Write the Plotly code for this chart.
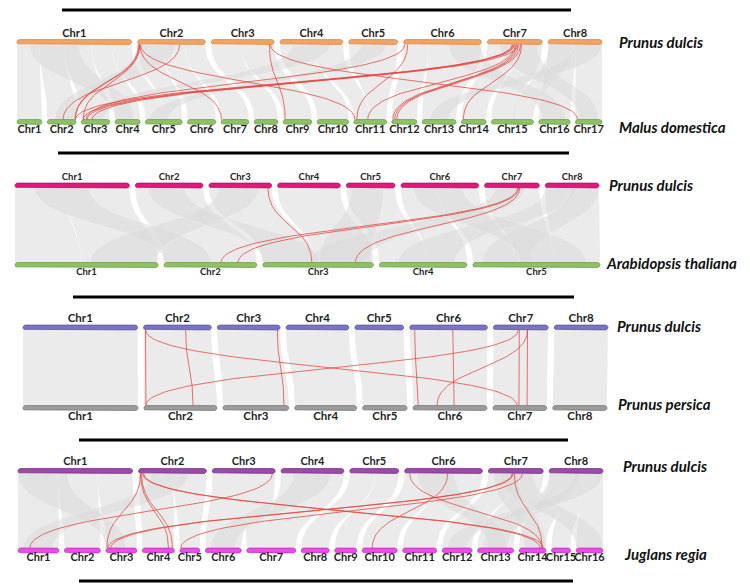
import numpy as np
import plotly.graph_objects as go

# ------------------------------------------------------------------ data
pd_len = [46.0, 27.2, 25.2, 25.2, 19.6, 31.2, 22.0, 21.6]            # Prunus dulcis (Mb)
md_len = [32.6, 37.5, 37.2, 32.8, 48.0, 37.0, 36.2, 31.0, 37.4, 41.1,
          42.7, 32.7, 44.2, 32.4, 54.9, 41.0, 34.7]                     # Malus domestica
at_len = [30.4, 19.7, 23.5, 18.6, 27.0]                                 # Arabidopsis thaliana
pp_len = [47.9, 30.4, 27.4, 25.8, 18.5, 30.8, 22.4, 22.6]               # Prunus persica
jr_len = [41, 36, 31, 32, 20, 36, 49, 28, 22, 35, 34, 30, 36, 27, 19, 27]  # Juglans regia

species_top = "Prunus dulcis"
species_bottom = ["Malus domestica", "Arabidopsis thaliana", "Prunus persica", "Juglans regia"]

# background syntenic blocks: (top chr, top start, top end, bottom chr, bottom start, bottom end)
blocks_md = [
    (1, 0, 9, 1, 0, 32.6), (1, 9, 19, 2, 0, 37.5), (1, 19, 30, 3, 0, 37.2),
    (1, 30, 38, 4, 0, 32.8), (1, 38, 46, 5, 0, 24), (2, 0, 10, 5, 24, 48),
    (2, 10, 19, 6, 0, 37), (2, 19, 27.2, 7, 0, 36.2), (3, 0, 12, 8, 0, 31),
    (3, 12, 25.2, 9, 0, 37.4), (4, 0, 13, 10, 0, 41.1), (4, 13, 25.2, 11, 0, 20),
    (5, 0, 19.6, 11, 20, 42.7), (6, 0, 10, 12, 0, 32.7), (6, 10, 31.2, 13, 0, 44.2),
    (7, 0, 12, 14, 0, 32.4), (7, 12, 22, 15, 0, 30), (8, 0, 11, 16, 0, 41),
    (8, 11, 21.6, 17, 0, 34.7),
]
cross_md = [
    (8, 0, 10, 15, 28, 54.9), (8, 10, 21.6, 13, 10, 35), (7, 5, 20, 17, 5, 30),
    (6, 18, 31, 16, 5, 35), (1, 5, 25, 4, 0, 25), (2, 0, 15, 2, 10, 35),
    (4, 5, 20, 3, 10, 30), (5, 5, 15, 5, 5, 30),
]
blocks_at = [
    (1, 0, 20, 1, 0, 14), (1, 20, 46, 1, 14, 30.4), (2, 0, 27.2, 2, 0, 19.7),
    (3, 0, 25.2, 3, 0, 11), (4, 0, 25.2, 3, 11, 23.5), (5, 0, 19.6, 4, 0, 10),
    (6, 0, 15, 4, 10, 18.6), (6, 15, 31.2, 5, 0, 9), (7, 0, 22, 5, 9, 17),
    (8, 0, 21.6, 5, 17, 27),
]
cross_at = [
    (8, 0, 12, 4, 4, 16), (8, 10, 21.6, 5, 2, 12), (7, 4, 16, 3, 10, 22),
    (1, 8, 30, 2, 0, 10), (3, 4, 20, 1, 16, 30), (6, 5, 25, 5, 10, 24),
    (2, 5, 20, 3, 0, 12), (5, 2, 15, 3, 12, 23),
]
blocks_pp = [
    (1, 0, 46.0, 1, 0, 47.9), (2, 0, 27.2, 2, 0, 30.4), (3, 0, 25.2, 3, 0, 27.4),
    (4, 0, 25.2, 4, 0, 25.8), (5, 0, 19.6, 5, 0, 18.5), (6, 0, 31.2, 6, 0, 30.8),
    (7, 0, 22.0, 7, 0, 22.4), (8, 0, 21.6, 8, 0, 22.6),
]
cross_pp = []
blocks_jr = [
    (1, 0, 16, 1, 0, 41), (1, 16, 32, 2, 0, 36), (1, 32, 46, 3, 0, 31),
    (2, 0, 14, 4, 0, 32), (2, 14, 27.2, 5, 0, 20), (3, 0, 25.2, 6, 0, 36),
    (3, 10, 25.2, 7, 0, 20), (4, 0, 25.2, 7, 15, 49), (5, 0, 10, 8, 0, 28),
    (5, 10, 19.6, 9, 0, 22), (6, 0, 15, 10, 0, 35), (6, 15, 31.2, 11, 0, 34),
    (7, 0, 11, 12, 0, 30), (7, 11, 22, 13, 0, 36), (8, 0, 10, 14, 0, 27),
    (8, 8, 16, 15, 0, 19), (8, 14, 21.6, 16, 0, 27),
]
cross_jr = [
    (8, 0, 12, 13, 5, 30), (8, 10, 21.6, 12, 5, 25), (7, 5, 18, 16, 0, 27),
    (7, 2, 12, 14, 5, 27), (6, 5, 20, 13, 10, 30), (1, 0, 20, 3, 0, 20),
    (2, 5, 20, 1, 5, 35), (4, 5, 20, 6, 5, 30),
]

# highlighted gene pairs: (top chr, top pos, bottom chr, bottom pos)
links_md = [
    (2, 16.9, 2, 20.7), (2, 0.4, 2, 36.2), (2, 0.8, 2, 37.0), (2, 0.8, 3, 2.6),
    (2, 0.9, 7, 0.3), (2, 1.2, 11, 1.3), (3, 23.3, 9, 2.6), (3, 23.7, 17, 2.6),
    (6, 1.6, 11, 3.9), (6, 0.4, 3, 6.5), (7, 10.0, 2, 36.8), (7, 10.4, 3, 2.8),
    (7, 10.8, 3, 7.8), (7, 12.4, 3, 14.2), (7, 11.2, 11, 18.1), (7, 11.6, 12, 1.3),
    (7, 12.4, 12, 3.9), (7, 13.3, 12, 6.5), (7, 13.7, 14, 2.6),
]
links_at = [(3, 23.7, 3, 10.4), (7, 13.3, 2, 12.1), (7, 13.7, 2, 15.7), (7, 14.1, 3, 19.7)]
links_pp = [
    (2, 0.8, 2, 0.8), (2, 0.8, 7, 10.0), (2, 16.9, 2, 20.4), (3, 24.1, 3, 25.4),
    (7, 10.0, 2, 0.8), (6, 2.0, 6, 2.1), (6, 17.3, 6, 17.1), (7, 13.7, 6, 10.0),
    (7, 10.4, 7, 10.8), (7, 13.7, 7, 14.2),
]
links_jr = [
    (2, 0.8, 3, 1), (2, 0.8, 4, 26), (2, 1.2, 4, 30), (2, 1.6, 14, 21),
    (2, 2.0, 14, 24), (3, 24.1, 1, 12), (6, 2.0, 14, 23), (6, 17.3, 10, 10),
    (7, 10.4, 14, 23), (7, 9.6, 3, 2), (7, 10.0, 3, 5), (7, 13.7, 5, 1),
]

# ------------------------------------------------------------------ layout of tracks (pixel space)
panels = [
    dict(top=(pd_len, 17, 602, 6, 42), bot=(md_len, 17, 602, 5.3, 122),
         tc="#F4A462", tl="#D98747", bc="#8DC363", bl="#6A9A45",
         blocks=blocks_md, cross=cross_md, links=links_md, tfs=11, bfs=11,
         tly=34, bly=130, sp_t=(617, 42), sp_b=(617, 127)),
    dict(top=(pd_len, 15, 599, 6, 185.5), bot=(at_len, 15, 600, 6, 265),
         tc="#E2187C", tl="#B30F60", bc="#8DC363", bl="#6A9A45",
         blocks=blocks_at, cross=cross_at, links=links_at, tfs=9.5, bfs=9.5,
         tly=178, bly=273, sp_t=(607, 185), sp_b=(604, 263)),
    dict(top=(pd_len, 23, 608, 6, 327.5), bot=(pp_len, 23, 607, 6, 408),
         tc="#7B74C2", tl="#5A539E", bc="#9C9C9C", bl="#767676",
         blocks=blocks_pp, cross=cross_pp, links=links_pp, tfs=11.5, bfs=11.5,
         tly=319, bly=417, sp_t=(615, 326), sp_b=(616, 404)),
    dict(top=(pd_len, 18, 603, 6, 471), bot=(jr_len, 18, 603, 5.5, 550.5),
         tc="#9A4DA6", tl="#763184", bc="#EC4CEC", bl="#C02FC0",
         blocks=blocks_jr, cross=cross_jr, links=links_jr, tfs=11, bfs=11,
         tly=462, bly=558, sp_t=(621, 466), sp_b=(622, 554)),
]
R = 2.4  # bar half height
OFF = 8  # page body margin of the browser


def track(lengths, x0, x1, gap):
    n = len(lengths)
    scale = (x1 - x0 - gap * (n - 1)) / sum(lengths)
    starts, pos = [], x0
    for L in lengths:
        starts.append(pos)
        pos += L * scale + gap
    return starts, scale


def bez(xa, ya, xb, yb, n=36):
    t = np.linspace(0, 1, n)
    ym = (ya + yb) / 2
    x = (1 - t) ** 3 * xa + 3 * (1 - t) ** 2 * t * xa + 3 * (1 - t) * t ** 2 * xb + t ** 3 * xb
    y = (1 - t) ** 3 * ya + 3 * (1 - t) ** 2 * t * ym + 3 * (1 - t) * t ** 2 * ym + t ** 3 * yb
    return x, y


def bar_poly(xs, xe, yc, r):
    th_r = np.linspace(-np.pi / 2, np.pi / 2, 10)
    th_l = np.linspace(np.pi / 2, 3 * np.pi / 2, 10)
    x = np.concatenate([xe - r + r * np.cos(th_r), xs + r + r * np.cos(th_l)])
    y = np.concatenate([yc + r * np.sin(th_r), yc + r * np.sin(th_l)])
    return list(x) + [x[0]], list(y) + [y[0]]


def ribbon(ts, tsc, bs, bsc, yA, yB, blk):
    c1, s1, e1, c2, s2, e2 = blk
    xa0 = ts[c1 - 1] + s1 * tsc
    xa1 = ts[c1 - 1] + e1 * tsc
    xb0 = bs[c2 - 1] + s2 * bsc
    xb1 = bs[c2 - 1] + e2 * bsc
    cx1, cy1 = bez(xa1, yA, xb1, yB)
    cx2, cy2 = bez(xb0, yB, xa0, yA)
    return [xa0] + list(cx1) + list(cx2) + [xa0], [yA] + list(cy1) + list(cy2) + [yA]


fig = go.Figure()
gray_traces, cross_traces, red_traces, bar_traces, text_traces = [], [], [], [], []
annotations = []

for P in panels:
    tl_, tx0, tx1, tg, ty = P["top"]
    bl_, bx0, bx1, bg, by = P["bot"]
    ts, tsc = track(tl_, tx0, tx1, tg)
    bs, bsc = track(bl_, bx0, bx1, bg)
    yA, yB = ty + R, by - R

    for blk in P["blocks"]:
        xs, ys = ribbon(ts, tsc, bs, bsc, yA, yB, blk)
        gray_traces.append(go.Scatter(x=xs, y=ys, mode="lines", fill="toself",
                                      fillcolor="#ebebeb", line=dict(width=0),
                                      hoverinfo="skip", showlegend=False))
    for blk in P["cross"]:
        xs, ys = ribbon(ts, tsc, bs, bsc, yA, yB, blk)
        cross_traces.append(go.Scatter(x=xs, y=ys, mode="lines", fill="toself",
                                       fillcolor="rgba(218,218,218,0.55)",
                                       line=dict(width=0.5, color="rgba(255,255,255,0.45)"),
                                       hoverinfo="skip", showlegend=False))

    lx, ly = [], []
    for (c1, p1, c2, p2) in P["links"]:
        xa = ts[c1 - 1] + p1 * tsc
        xb = bs[c2 - 1] + p2 * bsc
        cx, cy = bez(xa, yA, xb, yB, 60)
        lx += list(cx) + [None]
        ly += list(cy) + [None]
    red_traces.append(go.Scatter(x=lx, y=ly, mode="lines",
                                 line=dict(color="rgba(228,70,62,0.85)", width=0.9),
                                 hoverinfo="skip", showlegend=False))

    for (starts, scale, lens, yc, fc, lc, ly_, fs) in [
        (ts, tsc, tl_, ty, P["tc"], P["tl"], P["tly"], P["tfs"]),
        (bs, bsc, bl_, by, P["bc"], P["bl"], P["bly"], P["bfs"]),
    ]:
        bx, byy, cxs, names = [], [], [], []
        for i, (s, L) in enumerate(zip(starts, lens)):
            px, py = bar_poly(s, s + L * scale, yc, R)
            bx += px + [None]
            byy += py + [None]
            cxs.append(s + L * scale / 2)
            names.append(f"Chr{i + 1}")
        bar_traces.append(go.Scatter(x=bx, y=byy, mode="lines", fill="toself",
                                     fillcolor=fc, line=dict(color=lc, width=0.8),
                                     hoverinfo="skip", showlegend=False))
        text_traces.append(go.Scatter(x=cxs, y=[ly_] * len(cxs), mode="text", text=names,
                                      textfont=dict(family="Lato", size=fs, color="#1f1f1f",
                                                    weight="bold"),
                                      hoverinfo="skip", showlegend=False))

for k, P in enumerate(panels):
    for (txt, (sx, sy)) in [(species_top, P["sp_t"]), (species_bottom[k], P["sp_b"])]:
        annotations.append(dict(x=sx, y=sy, xref="x", yref="y", text=f"<b><i>{txt}</i></b>",
                                showarrow=False, xanchor="left", yanchor="middle",
                                font=dict(family="Lato", size=15, color="#111")))

for t in gray_traces + cross_traces + red_traces + bar_traces + text_traces:
    fig.add_trace(t)

rules = [(62, 571, 10), (58, 569, 153), (73, 574, 297), (79, 568, 440), (79, 573, 581)]
shapes = [dict(type="line", xref="x", yref="y", x0=a, x1=b, y0=y, y1=y,
               line=dict(color="black", width=3)) for a, b, y in rules]

fig.update_layout(
    width=750 - OFF, height=588 - OFF, autosize=False,
    margin=dict(l=0, r=0, t=0, b=0),
    paper_bgcolor="white", plot_bgcolor="white",
    xaxis=dict(range=[OFF, 750], visible=False, fixedrange=True),
    yaxis=dict(range=[588, OFF], visible=False, fixedrange=True),
    shapes=shapes, annotations=annotations, showlegend=False,
)
fig.write_html("out.html")
